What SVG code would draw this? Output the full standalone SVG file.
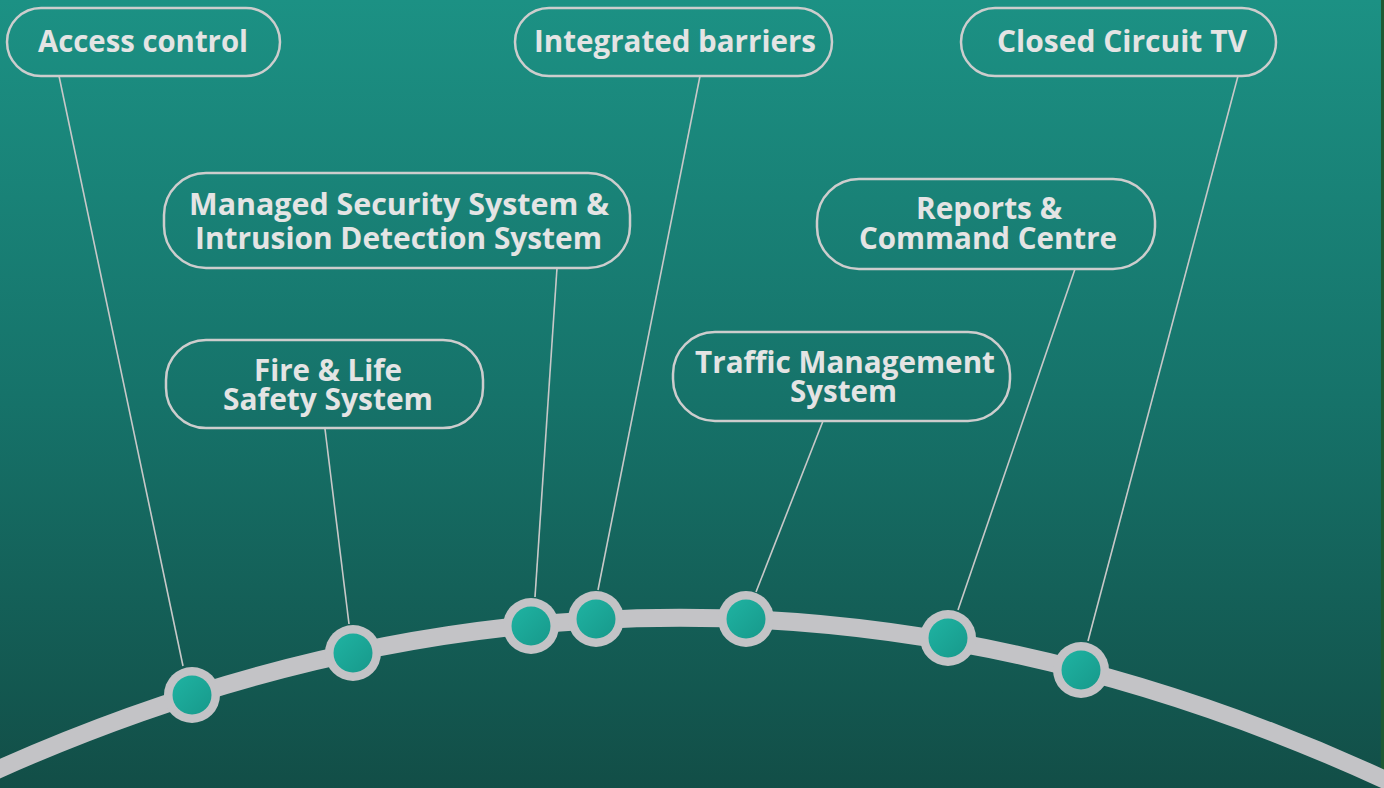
<svg xmlns="http://www.w3.org/2000/svg" width="1384" height="788" viewBox="0 0 1384 788">
  <defs>
    <linearGradient id="bg" x1="0" y1="0" x2="0" y2="1">
      <stop offset="0" stop-color="#1c9184"/>
      <stop offset="0.5" stop-color="#16736a"/>
      <stop offset="1" stop-color="#124e47"/>
    </linearGradient>
    <linearGradient id="dotfill" x1="0" y1="0" x2="1" y2="1">
      <stop offset="0" stop-color="#1fb3a2"/>
      <stop offset="1" stop-color="#17998b"/>
    </linearGradient>
    <style>
      .box { fill: none; stroke: #cdcdcd; stroke-width: 2.5; }
      .lbl { font-family: "Open Sans", "Liberation Sans", sans-serif; font-weight: bold; font-size: 31px; fill: #e4e4e4; text-anchor: middle; }
      .conn { stroke: #c8c8c8; stroke-width: 1.6; fill: none; }
      .outer { fill: #c3c3c6; }
      .inner { fill: url(#dotfill); }
    </style>
  </defs>

  <rect x="0" y="0" width="1384" height="788" fill="url(#bg)"/>
  <rect x="1381" y="0" width="3" height="788" fill="#1d5a33"/>

  <path id="arc" d="M -10 773 Q 692 457 1394 784" fill="none" stroke="#c3c3c6" stroke-width="18"/>

  <g id="connectors">
    <line class="conn" x1="59" y1="76" x2="183" y2="666"/>
    <line class="conn" x1="325" y1="429" x2="349" y2="624"/>
    <line class="conn" x1="557" y1="268" x2="535" y2="597"/>
    <line class="conn" x1="700" y1="76" x2="598" y2="590"/>
    <line class="conn" x1="823" y1="421" x2="756" y2="592"/>
    <line class="conn" x1="1075" y1="269" x2="958" y2="610"/>
    <line class="conn" x1="1238" y1="76" x2="1088" y2="641"/>
  </g>

  <g id="dots">
    <circle class="outer" cx="192" cy="695" r="28"/><circle class="inner" cx="192" cy="695" r="19.5"/>
    <circle class="outer" cx="353" cy="653" r="28"/><circle class="inner" cx="353" cy="653" r="19.5"/>
    <circle class="outer" cx="531" cy="626" r="28"/><circle class="inner" cx="531" cy="626" r="19.5"/>
    <circle class="outer" cx="596" cy="619" r="28"/><circle class="inner" cx="596" cy="619" r="19.5"/>
    <circle class="outer" cx="746" cy="619" r="28"/><circle class="inner" cx="746" cy="619" r="19.5"/>
    <circle class="outer" cx="948" cy="638" r="28"/><circle class="inner" cx="948" cy="638" r="19.5"/>
    <circle class="outer" cx="1081" cy="670" r="28"/><circle class="inner" cx="1081" cy="670" r="19.5"/>
  </g>

  <g id="access-control">
    <rect class="box" x="7" y="8" width="273" height="68" rx="34"/>
    <text class="lbl" x="143" y="52" textLength="210" lengthAdjust="spacingAndGlyphs">Access control</text>
  </g>

  <g id="integrated-barriers">
    <rect class="box" x="515" y="8" width="317" height="68" rx="34"/>
    <text class="lbl" x="675" y="52" textLength="282" lengthAdjust="spacingAndGlyphs">Integrated barriers</text>
  </g>

  <g id="cctv">
    <rect class="box" x="961" y="8" width="315" height="68" rx="34"/>
    <text class="lbl" x="1122" y="52" textLength="250" lengthAdjust="spacingAndGlyphs">Closed Circuit TV</text>
  </g>

  <g id="managed-security">
    <rect class="box" x="164" y="173" width="466" height="95" rx="42"/>
    <text class="lbl" x="399" y="215" font-size="30" textLength="420" lengthAdjust="spacingAndGlyphs">Managed Security System &amp;</text>
    <text class="lbl" x="398.5" y="249" font-size="30" textLength="407" lengthAdjust="spacingAndGlyphs">Intrusion Detection System</text>
  </g>

  <g id="fire-life-safety">
    <rect class="box" x="166" y="340" width="317" height="88" rx="40"/>
    <text class="lbl" x="328" y="381" font-size="30" textLength="148" lengthAdjust="spacingAndGlyphs">Fire &amp; Life</text>
    <text class="lbl" x="328" y="410" font-size="30" textLength="210" lengthAdjust="spacingAndGlyphs">Safety System</text>
  </g>

  <g id="reports-command">
    <rect class="box" x="817" y="179" width="338" height="90" rx="42"/>
    <text class="lbl" x="989" y="219" font-size="30" textLength="146" lengthAdjust="spacingAndGlyphs">Reports &amp;</text>
    <text class="lbl" x="988" y="249" font-size="30" textLength="258" lengthAdjust="spacingAndGlyphs">Command Centre</text>
  </g>

  <g id="traffic-management">
    <rect class="box" x="673" y="332" width="337" height="89" rx="42"/>
    <text class="lbl" x="845" y="373" font-size="30" textLength="300" lengthAdjust="spacingAndGlyphs">Traffic Management</text>
    <text class="lbl" x="843.5" y="402" font-size="30" textLength="107" lengthAdjust="spacingAndGlyphs">System</text>
  </g>
</svg>
